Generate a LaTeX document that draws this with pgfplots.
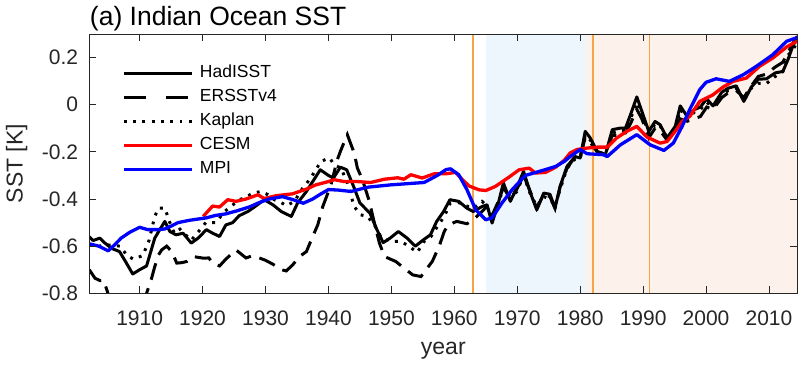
\documentclass[border=0pt]{standalone}
\usepackage{pgfplots}
\pgfplotsset{compat=1.18}
\usepackage{fontspec}
\setmainfont{Liberation Sans}
\definecolor{axgray}{RGB}{38,38,38}
\definecolor{shblue}{RGB}{237,245,253}
\definecolor{shpeach}{RGB}{252,241,235}
\definecolor{vorange}{RGB}{246,164,72}
\begin{document}
\begin{tikzpicture}
\path[use as bounding box] (-89.3pt,-72.7pt) rectangle (708.7pt,293.3pt);
\begin{axis}[
  scale only axis, width=708pt, height=259.3pt,
  xmin=1902, xmax=2014.5, ymin=-0.8, ymax=0.3,
  xtick={1910,1920,1930,1940,1950,1960,1970,1980,1990,2000,2010},
  ytick={-0.8,-0.6,-0.4,-0.2,0,0.2},
  tick align=inside, major tick length=7pt,
  axis on top,
  axis line style={color=axgray, line width=0.9pt},
  every tick/.style={color=axgray, line width=0.9pt},
  /pgf/number format/assume math mode=true,
  ticklabel style={font=\fontsize{21}{21}\selectfont, text=axgray},
  xticklabel style={anchor=north, inner sep=0pt, yshift=-17.4pt, /pgf/number format/1000 sep=},
  yticklabel style={anchor=east, inner sep=0pt, xshift=-11pt, /pgf/number format/fixed},
  xlabel={year}, ylabel={SST [K]},
  xlabel style={font=\fontsize{23}{23}\selectfont, text=axgray, at={(axis description cs:0.5,0)}, anchor=center, yshift=-57pt},
  ylabel style={font=\fontsize{23}{23}\selectfont, text=axgray, at={(axis description cs:-0.10254,0.5)}, anchor=center},
  title={(a) Indian Ocean SST},
  title style={font=\fontsize{26.5}{26.5}\selectfont, text=black, at={(axis description cs:0,1)}, anchor=base west, inner sep=0pt, yshift=2.5pt, xshift=0.5pt},
  legend style={draw=none, fill=none, font=\fontsize{17.5}{17.5}\selectfont,
    at={(axis description cs:0,1)}, anchor=north west, xshift=32.7pt, yshift=-30.8pt,
    inner sep=0pt, row sep=7pt, column sep=6.5pt,
    nodes={inner sep=0pt, text height=13pt, text depth=4pt}},
  legend cell align=left,
  legend image code/.code={\draw[#1] (0pt,0pt) -- (68pt,0pt);},
]
% shaded periods
\addplot[draw=none, fill=shblue, forget plot] coordinates {(1965,-0.8) (1965,0.3) (1981,0.3) (1981,-0.8)} -- cycle;
\addplot[draw=none, fill=shpeach, forget plot] coordinates {(1981,-0.8) (1981,0.3) (2014.5,0.3) (2014.5,-0.8)} -- cycle;
% eruptions
\addplot[vorange, line width=1.5pt, forget plot] coordinates {(1963,-0.8) (1963,0.3)};
\addplot[vorange, line width=1.5pt, forget plot] coordinates {(1982,-0.8) (1982,0.3)};
\addplot[vorange, line width=1.5pt, forget plot] coordinates {(1991,-0.8) (1991,0.3)};

% HadISST
\addplot[black, line width=3pt, line join=round] table {
x y
1902.0 -0.56
1902.6 -0.576
1903.7 -0.566
1904.4 -0.585
1905.5 -0.609
1906.8 -0.623
1907.9 -0.672
1908.9 -0.718
1910.0 -0.700
1911.1 -0.684
1912.4 -0.566
1913.2 -0.530
1914.0 -0.495
1914.8 -0.538
1915.8 -0.552
1916.9 -0.545
1918.2 -0.587
1919.3 -0.566
1920.6 -0.530
1921.6 -0.545
1922.7 -0.559
1923.7 -0.510
1924.8 -0.500
1925.8 -0.471
1927.2 -0.453
1928.5 -0.429
1929.8 -0.403
1931.2 -0.425
1932.5 -0.453
1934.1 -0.474
1935.1 -0.417
1936.5 -0.368
1937.5 -0.326
1938.7 -0.276
1940.0 -0.300
1940.8 -0.311
1941.9 -0.265
1942.9 -0.276
1944.0 -0.347
1945.0 -0.417
1946.6 -0.460
1947.7 -0.530
1948.7 -0.585
1949.8 -0.566
1951.1 -0.538
1952.5 -0.566
1953.8 -0.600
1955.1 -0.573
1956.2 -0.552
1957.2 -0.495
1958.3 -0.453
1959.3 -0.403
1960.7 -0.410
1962.0 -0.439
1963.0 -0.453
1964.4 -0.432
1965.2 -0.425
1966.0 -0.502
1967.0 -0.417
1967.8 -0.332
1968.9 -0.410
1969.9 -0.354
1971.0 -0.283
1972.1 -0.375
1973.1 -0.446
1974.2 -0.375
1975.2 -0.380
1976.0 -0.439
1976.8 -0.347
1977.9 -0.262
1979.2 -0.220
1980.0 -0.226
1980.8 -0.113
1981.6 -0.141
1982.7 -0.198
1984.0 -0.212
1985.1 -0.106
1986.4 -0.099
1987.2 -0.099
1988.0 -0.042
1989.0 0.033
1989.8 -0.028
1990.9 -0.113
1991.9 -0.071
1992.7 -0.085
1993.8 -0.141
1995.1 -0.092
1995.9 -0.005
1997.0 -0.050
1998.2 -0.020
1999.1 -0.010
2000.1 0.025
2001.1 -0.005
2002.5 0.053
2003.5 0.070
2004.8 0.080
2006.0 0.014
2007.2 0.075
2008.3 0.108
2009.6 0.110
2011.0 0.135
2012.2 0.141
2013.0 0.190
2013.8 0.250
2014.5 0.285
};
\addlegendentry{HadISST}

% ERSSTv4
\addplot[black, line width=3pt, dash pattern=on 17pt off 9pt, legend image post style={dash pattern=on 22pt off 20pt}] table {
x y
1902.0 -0.700
1902.9 -0.736
1903.7 -0.746
1904.3 -0.745
1905.2 -0.820
1906.5 -0.900
1908.0 -0.950
1909.5 -0.920
1910.5 -0.840
1911.1 -0.800
1911.9 -0.736
1912.4 -0.687
1913.0 -0.637
1913.5 -0.616
1914.3 -0.600
1915.1 -0.623
1915.9 -0.672
1916.7 -0.670
1917.5 -0.665
1918.5 -0.644
1920.1 -0.651
1921.0 -0.650
1921.6 -0.672
1922.7 -0.684
1923.7 -0.655
1925.3 -0.616
1926.9 -0.650
1928.0 -0.640
1929.0 -0.650
1930.0 -0.660
1931.2 -0.677
1932.5 -0.700
1933.3 -0.705
1934.3 -0.680
1935.4 -0.644
1936.5 -0.623
1937.5 -0.559
1938.3 -0.510
1939.1 -0.432
1940.4 -0.340
1941.4 -0.234
1942.0 -0.191
1943.0 -0.127
1943.6 -0.170
1944.1 -0.205
1944.6 -0.269
1945.4 -0.318
1946.5 -0.410
1947.3 -0.502
1948.1 -0.587
1948.9 -0.644
1950.7 -0.665
1952.0 -0.693
1953.4 -0.722
1954.7 -0.729
1955.7 -0.693
1956.5 -0.665
1957.6 -0.600
1958.4 -0.538
1959.0 -0.510
1960.4 -0.495
1962.0 -0.505
1963.0 -0.488
1964.4 -0.453
1965.4 -0.425
1966.0 -0.470
1967.0 -0.410
1967.8 -0.350
1968.9 -0.400
1969.9 -0.360
1971.0 -0.300
1972.1 -0.370
1973.1 -0.440
1974.2 -0.380
1975.2 -0.390
1976.0 -0.440
1976.8 -0.350
1977.9 -0.270
1979.2 -0.220
1980.0 -0.220
1980.8 -0.140
1981.6 -0.160
1982.7 -0.200
1984.0 -0.210
1985.1 -0.130
1986.4 -0.130
1987.2 -0.120
1988.0 -0.080
1989.0 -0.020
1989.8 -0.060
1990.9 -0.140
1991.9 -0.100
1992.7 -0.110
1993.8 -0.150
1995.1 -0.110
1995.9 -0.060
1997.0 -0.070
1998.2 -0.060
1999.1 -0.050
2000.1 -0.010
2001.1 -0.020
2002.5 0.030
2003.5 0.050
2004.8 0.060
2006.0 0.030
2007.2 0.080
2008.3 0.120
2009.6 0.130
2011.0 0.160
2012.2 0.180
2013.0 0.220
2013.8 0.260
2014.5 0.290
};
\addlegendentry{ERSSTv4}

% Kaplan
\addplot[black, line width=3pt, dash pattern=on 2.8pt off 6.5pt] table {
x y
1902.0 -0.595
1903.5 -0.600
1905.0 -0.595
1906.9 -0.600
1908.0 -0.640
1909.0 -0.655
1910.5 -0.640
1911.5 -0.575
1912.4 -0.474
1913.0 -0.439
1914.0 -0.439
1914.8 -0.500
1915.5 -0.545
1916.4 -0.528
1917.2 -0.550
1918.2 -0.575
1919.3 -0.540
1920.5 -0.500
1922.1 -0.500
1923.5 -0.453
1924.5 -0.432
1925.8 -0.403
1926.6 -0.396
1928.0 -0.375
1929.3 -0.368
1930.4 -0.382
1931.4 -0.403
1932.5 -0.415
1933.3 -0.429
1934.6 -0.410
1935.9 -0.354
1937.0 -0.318
1938.0 -0.276
1938.8 -0.240
1939.6 -0.232
1940.2 -0.226
1940.9 -0.255
1942.0 -0.269
1943.0 -0.332
1944.1 -0.432
1945.1 -0.467
1946.2 -0.474
1947.3 -0.510
1948.3 -0.559
1949.9 -0.580
1951.5 -0.580
1952.8 -0.600
1954.1 -0.627
1955.2 -0.580
1956.3 -0.559
1957.3 -0.517
1958.4 -0.474
1959.3 -0.420
1960.7 -0.415
1962.0 -0.430
1963.0 -0.440
1964.4 -0.410
1965.2 -0.430
1966.0 -0.490
1967.0 -0.420
1967.8 -0.350
1968.9 -0.390
1969.9 -0.370
1971.0 -0.300
1972.1 -0.380
1973.1 -0.430
1974.2 -0.390
1975.2 -0.400
1976.0 -0.430
1976.8 -0.360
1977.9 -0.270
1979.2 -0.230
1980.0 -0.230
1980.8 -0.130
1981.6 -0.150
1982.7 -0.200
1984.0 -0.210
1985.1 -0.120
1986.4 -0.110
1987.2 -0.110
1988.0 -0.060
1989.0 0.010
1989.8 -0.040
1990.9 -0.120
1991.9 -0.080
1992.7 -0.090
1993.8 -0.140
1995.1 -0.100
1995.9 -0.020
1997.0 -0.060
1998.2 -0.030
1999.1 -0.020
2000.1 0.010
2001.1 -0.010
2002.5 0.040
2003.5 0.060
2004.8 0.070
2006.0 0.020
2007.2 0.070
2008.3 0.090
2009.6 0.090
2011.0 0.120
2012.2 0.140
2013.0 0.210
2013.8 0.230
2014.5 0.270
};
\addlegendentry{Kaplan}

% CESM
\addplot[red, line width=3.3pt, line join=round] table {
x y
1920.1 -0.474
1920.6 -0.459
1921.6 -0.430
1922.7 -0.434
1924.0 -0.403
1925.3 -0.410
1926.9 -0.400
1928.8 -0.382
1929.8 -0.398
1931.7 -0.386
1934.3 -0.378
1936.5 -0.358
1938.0 -0.340
1940.0 -0.326
1940.9 -0.318
1942.5 -0.326
1944.6 -0.326
1946.7 -0.330
1948.9 -0.316
1951.0 -0.310
1952.0 -0.316
1953.1 -0.297
1954.9 -0.311
1956.8 -0.293
1958.7 -0.293
1960.2 -0.287
1961.3 -0.318
1962.3 -0.344
1963.9 -0.361
1965.0 -0.364
1966.5 -0.347
1968.7 -0.307
1970.3 -0.276
1971.9 -0.269
1972.9 -0.290
1974.5 -0.287
1976.1 -0.265
1977.5 -0.235
1978.4 -0.205
1979.5 -0.190
1981.1 -0.184
1982.7 -0.180
1984.3 -0.180
1985.8 -0.141
1987.4 -0.113
1989.0 -0.092
1990.6 -0.137
1992.7 -0.163
1993.8 -0.156
1995.3 -0.106
1996.2 -0.070
1997.4 -0.050
1999.0 0.014
2001.1 0.042
2002.7 0.075
2004.3 0.099
2006.4 0.113
2008.5 0.163
2010.6 0.198
2012.8 0.245
2014.5 0.270
};
\addlegendentry{CESM}

% MPI
\addplot[blue, line width=3.3pt, line join=round] table {
x y
1902.0 -0.590
1903.5 -0.600
1905.0 -0.620
1906.0 -0.595
1907.1 -0.565
1908.5 -0.540
1910.0 -0.520
1911.3 -0.530
1913.0 -0.530
1914.0 -0.527
1915.0 -0.515
1916.1 -0.500
1918.0 -0.490
1919.8 -0.483
1920.6 -0.480
1922.0 -0.470
1923.7 -0.463
1925.5 -0.450
1927.5 -0.433
1929.0 -0.415
1930.6 -0.400
1932.7 -0.390
1934.4 -0.403
1936.0 -0.418
1937.5 -0.400
1938.7 -0.380
1940.0 -0.360
1941.5 -0.362
1943.6 -0.368
1946.2 -0.350
1949.9 -0.340
1952.5 -0.335
1955.2 -0.330
1957.3 -0.300
1958.7 -0.275
1959.4 -0.272
1960.7 -0.297
1962.0 -0.360
1963.4 -0.446
1965.0 -0.488
1966.0 -0.480
1967.6 -0.416
1969.2 -0.360
1971.3 -0.300
1974.0 -0.279
1976.1 -0.262
1977.5 -0.240
1978.4 -0.220
1980.0 -0.190
1981.1 -0.208
1983.7 -0.212
1984.3 -0.220
1986.4 -0.170
1989.0 -0.127
1991.1 -0.170
1993.3 -0.194
1994.8 -0.163
1996.2 -0.092
1997.4 -0.021
1999.0 0.064
2000.0 0.095
2001.6 0.110
2003.7 0.099
2005.9 0.127
2008.0 0.163
2010.6 0.212
2012.8 0.269
2014.5 0.285
};
\addlegendentry{MPI}
\end{axis}
\end{tikzpicture}
\end{document}
